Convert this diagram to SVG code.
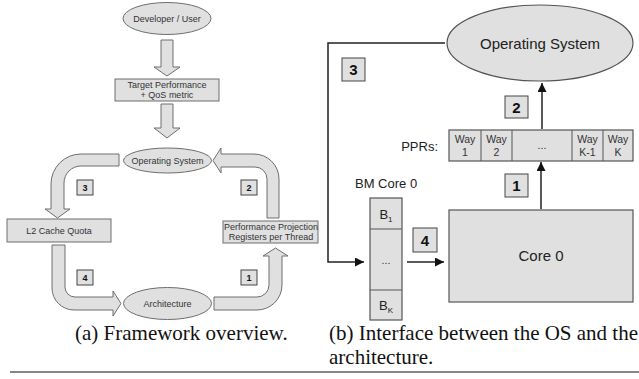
<svg xmlns="http://www.w3.org/2000/svg" width="639" height="379" viewBox="0 0 639 379">
<defs>
<style>
.sh{fill:#e0e0e0;stroke:#6e6e6e;stroke-width:1}
.sh2{fill:#e0e0e0;stroke:#555;stroke-width:1.2}
.t9{font-family:"Liberation Sans",Arial,sans-serif;font-size:9px;fill:#333;text-anchor:middle}
.t15{font-family:"Liberation Sans",Arial,sans-serif;font-size:15px;fill:#222;text-anchor:middle}
.t13{font-family:"Liberation Sans",Arial,sans-serif;font-size:13px;fill:#222}
.t10{font-family:"Liberation Sans",Arial,sans-serif;font-size:10.5px;fill:#333;text-anchor:middle}
.nb{fill:#e0e0e0;stroke:#444;stroke-width:1}
.n9{font-family:"Liberation Sans",Arial,sans-serif;font-size:9px;font-weight:bold;fill:#111;text-anchor:middle}
.n15{font-family:"Liberation Sans",Arial,sans-serif;font-size:15px;font-weight:bold;fill:#111;text-anchor:middle}
.cap{font-family:"Liberation Serif","Times New Roman",serif;font-size:21px;fill:#111}
.ln{fill:none;stroke:#222;stroke-width:1.5}
</style>
<marker id="ah" viewBox="0 0 10 10" refX="10" refY="5" markerWidth="10" markerHeight="9" markerUnits="userSpaceOnUse" orient="auto">
<path d="M0,0 L10,5 L0,10 Z" fill="#111"/>
</marker>
</defs>

<!-- (a) Framework overview -->
<g id="developer"><ellipse class="sh" cx="167" cy="18.5" rx="44" ry="16"/><text class="t9" x="167" y="21.5">Developer / User</text></g>
<g id="target"><rect class="sh" x="115" y="79" width="104" height="22"/><text class="t9" x="167" y="88">Target Performance</text><text class="t9" x="167" y="98">+ QoS metric</text></g>
<g id="os-a"><ellipse class="sh" cx="167.5" cy="160.5" rx="44" ry="12.5"/><text class="t9" x="167.5" y="163.5">Operating System</text></g>
<g id="l2"><rect class="sh" x="7" y="219" width="104" height="23"/><text class="t9" x="59" y="233.5">L2 Cache Quota</text></g>
<g id="ppr-a"><rect class="sh" x="223" y="221" width="95" height="22"/><text class="t9" x="271" y="229.5">Performance Projection</text><text class="t9" x="271" y="240">Registers per Thread</text></g>
<g id="arch"><ellipse class="sh" cx="167.5" cy="303.5" rx="44" ry="16"/><text class="t9" x="167.5" y="306.5">Architecture</text></g>

<g id="connectors-a">
<path class="sh" d="M161,40 L173,40 L173,67 L180,67 L167,76 L154,67 L161,67 Z"/>
<path class="sh" d="M161,104 L173,104 L173,128 L180,128 L167,138 L154,128 L161,128 Z"/>
<path class="sh" d="M119,154 L81,154 A30,30 0 0 0 51,184 L51,209 L45,209 L57.5,218 L70,209 L64,209 L64,183 A17,17 0 0 1 81,166 L119,166 Z"/>
<path class="sh" d="M52,245 L65,245 L65,287 A10,10 0 0 0 75,297 L113,297 L113,291 L121,303.5 L113,316 L113,310 L74,310 A22,22 0 0 1 52,288 Z"/>
<path class="sh" d="M214,297 L257,297 A12,12 0 0 0 269,285 L269,256 L263,256 L275.5,248 L288,256 L282,256 L282,285 A25,25 0 0 1 257,310 L214,310 Z"/>
<path class="sh" d="M267,218 L267,179 A12,12 0 0 0 255,167 L221,167 L221,173 L213,160.5 L221,148 L221,154 L254,154 A25,25 0 0 1 279,179 L279,218 Z"/>
</g>
<g id="labels-a">
<rect class="nb" x="77" y="180" width="16" height="15"/><text class="n9" x="85" y="191">3</text>
<rect class="nb" x="241" y="180" width="16" height="15"/><text class="n9" x="249" y="191">2</text>
<rect class="nb" x="77" y="270" width="16" height="15"/><text class="n9" x="85" y="281">4</text>
<rect class="nb" x="241" y="270" width="16" height="15"/><text class="n9" x="249" y="281">1</text>
</g>

<!-- (b) Interface -->
<g id="os-b"><ellipse class="sh2" cx="540" cy="43" rx="93" ry="38"/><text class="t15" x="540" y="48.5">Operating System</text></g>
<g id="pprs">
<text class="t13" x="438" y="151" text-anchor="end">PPRs:</text>
<rect class="sh2" x="449" y="130" width="184" height="31"/>
<line x1="481" y1="130" x2="481" y2="161" stroke="#555"/>
<line x1="512" y1="130" x2="512" y2="161" stroke="#555"/>
<line x1="572" y1="130" x2="572" y2="161" stroke="#555"/>
<line x1="603" y1="130" x2="603" y2="161" stroke="#555"/>
<text class="t10" x="465" y="143">Way</text><text class="t10" x="465" y="156">1</text>
<text class="t10" x="496.5" y="143">Way</text><text class="t10" x="496.5" y="156">2</text>
<text class="t10" x="542" y="149" fill="#777">...</text>
<text class="t10" x="587.5" y="143">Way</text><text class="t10" x="587.5" y="156">K-1</text>
<text class="t10" x="618" y="143">Way</text><text class="t10" x="618" y="156">K</text>
</g>
<g id="bm">
<text class="t13" x="355" y="188">BM Core 0</text>
<rect class="sh2" x="370" y="198" width="32" height="122"/>
<line x1="370" y1="229" x2="402" y2="229" stroke="#555"/>
<line x1="370" y1="290" x2="402" y2="290" stroke="#555"/>
<text class="t13" x="386" y="219" text-anchor="middle">B<tspan font-size="8" dy="3">1</tspan></text>
<text class="t10" x="386" y="264" fill="#777">...</text>
<text class="t13" x="386" y="310" text-anchor="middle">B<tspan font-size="8" dy="3">K</tspan></text>
</g>
<g id="core0"><rect class="sh2" x="449" y="210" width="184" height="92"/><text class="t15" x="541" y="261">Core 0</text></g>

<g id="connectors-b">
<path class="ln" d="M445,43 L328,43 L328,262 L364,262" marker-end="url(#ah)"/>
<line class="ln" x1="542" y1="129" x2="542" y2="83" marker-end="url(#ah)"/>
<line class="ln" x1="541" y1="209" x2="541" y2="162" marker-end="url(#ah)"/>
<line class="ln" x1="407" y1="262" x2="444" y2="262" marker-end="url(#ah)"/>
</g>
<g id="labels-b">
<rect class="nb" x="342" y="58" width="23" height="23"/><text class="n15" x="353.5" y="75">3</text>
<rect class="nb" x="505" y="96" width="23" height="22"/><text class="n15" x="516.5" y="112.5">2</text>
<rect class="nb" x="505" y="174" width="23" height="23"/><text class="n15" x="516.5" y="191">1</text>
<rect class="nb" x="413" y="228" width="24" height="24"/><text class="n15" x="425" y="245.5">4</text>
</g>

<g id="captions">
<text class="cap" x="75" y="340">(a)  Framework overview.</text>
<text class="cap" x="329" y="340">(b)  Interface between the OS and the</text>
<text class="cap" x="329" y="364">architecture.</text>
<line x1="10" y1="372" x2="639" y2="372" stroke="#111" stroke-width="1.2"/>
</g>
</svg>
